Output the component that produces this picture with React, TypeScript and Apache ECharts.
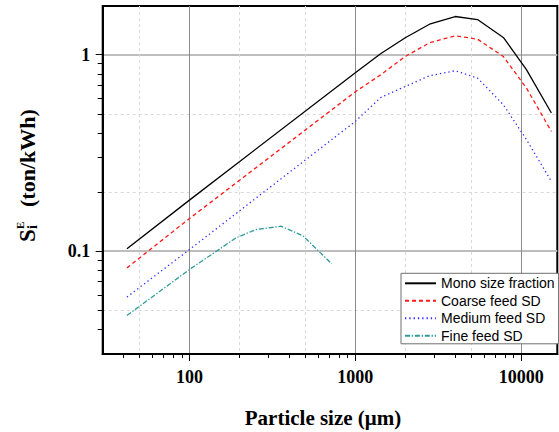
import React, { useEffect, useRef } from "react";
import * as echarts from "echarts";

// ---- data ----
const monoX = [42, 100, 1000, 1420, 2000, 2800, 4000, 5450, 7800, 10750, 15200];
const monoY = [0.103, 0.182, 0.81, 1.012, 1.22, 1.43, 1.565, 1.51, 1.225, 0.84, 0.505];

const coarseX = [42, 100, 1000, 1420, 2000, 2800, 4000, 5450, 7800, 10750, 15200];
const coarseY = [0.0823, 0.1467, 0.648, 0.79, 0.98, 1.15, 1.249, 1.2, 0.98, 0.677, 0.407];

const mediumX = [42, 100, 1000, 1420, 2000, 2800, 4000, 5450, 7800, 10750, 15200];
const mediumY = [0.0585, 0.102, 0.458, 0.605, 0.69, 0.782, 0.829, 0.761, 0.557, 0.37, 0.227];

const fineX = [42, 100, 191, 252, 357, 482, 721];
const fineY = [0.0471, 0.0807, 0.117, 0.129, 0.134, 0.12, 0.0863];

const seriesNames = ["Mono size fraction", "Coarse feed SD", "Medium feed SD", "Fine feed SD"];

const xMajor = [100, 1000, 10000];
const xMinorTicks = [40, 50, 60, 70, 80, 90, 200, 300, 400, 500, 600, 700, 800, 900,
  2000, 3000, 4000, 5000, 6000, 7000, 8000, 9000];
const xMinorGrid = [50, 200, 500, 2000, 5000];
const xLabels = ["100", "1000", "10000"];

const yMajor = [0.1, 1];
const yMinorTicks = [0.04, 0.05, 0.06, 0.07, 0.08, 0.09, 0.2, 0.3, 0.4, 0.5, 0.6, 0.7, 0.8, 0.9];
const yMinorGrid = [0.05, 0.2, 0.5];
const yLabels = ["0.1", "1"];

const X_MIN = 30;
const X_MAX = 16500;
const Y_MIN = 0.03;
const Y_MAX = 1.77;

const zip = (xs: number[], ys: number[]) => xs.map((x, i) => [x, ys[i]]);

export default function App() {
  const ref = useRef<HTMLDivElement>(null);

  useEffect(() => {
    if (!ref.current) return;
    const chart = echarts.init(ref.current, undefined, { renderer: "svg" });

    const serif = "Liberation Serif";
    const sans = "Liberation Sans";

    const labelFmt = (majors: number[], labels: string[]) => (v: number) => {
      for (let i = 0; i < majors.length; i++) {
        if (Math.abs(Math.log10(v) - Math.log10(majors[i])) < 1e-6) return labels[i];
      }
      return "";
    };

    const baseX = { type: "log", logBase: 10, min: X_MIN, max: X_MAX, position: "bottom", gridIndex: 0 };
    const baseY = { type: "log", logBase: 10, min: Y_MIN, max: Y_MAX, position: "left", gridIndex: 0 };

    const mkSeries = (name: string, xs: number[], ys: number[], color: string, type: any) => ({
      name,
      type: "line",
      xAxisIndex: 0,
      yAxisIndex: 0,
      symbol: "none",
      lineStyle: { color, width: 1.3, type },
      itemStyle: { color, opacity: 0 },
      data: zip(xs, ys),
      z: 5,
    });

    const txt = (text: string, x: number, y: number, size: number, align = "left") => ({
      type: "text",
      x,
      y,
      style: {
        text,
        fontFamily: serif,
        fontWeight: "bold",
        fontSize: size,
        fill: "#000",
        textAlign: align,
        textVerticalAlign: "middle",
        align,
        verticalAlign: "middle",
      },
    });

    const option: any = {
      animation: false,
      backgroundColor: "#ffffff",
      grid: {
        left: 102.7,
        right: 1.7,
        top: 6,
        bottom: 78,
        show: true,
        borderColor: "#000",
        borderWidth: 2,
        backgroundColor: "transparent",
        containLabel: false,
        outerBoundsMode: "none",
      },
      xAxis: [
        {
          ...baseX,
          axisLine: { show: true, lineStyle: { color: "#000", width: 2 } },
          axisTick: { show: true, inside: false, length: 7, lineStyle: { color: "#000", width: 1 }, customValues: xMajor },
          axisLabel: {
            show: true,
            customValues: xMajor,
            formatter: labelFmt(xMajor, xLabels),
            margin: 14,
            color: "#000",
            fontFamily: serif,
            fontWeight: "bold",
            fontSize: 18,
          },
          splitLine: { show: true, lineStyle: { color: "#8c8c8c", width: 1 } },
          minorTick: { show: false },
          minorSplitLine: { show: false },
        },
        {
          ...baseX,
          axisLine: { show: false },
          axisTick: { show: true, inside: false, length: 4, lineStyle: { color: "#000", width: 1 }, customValues: xMinorTicks },
          axisLabel: { show: false },
          splitLine: { show: false },
        },
        {
          ...baseX,
          axisLine: { show: false },
          axisTick: { show: false, customValues: xMinorGrid },
          axisLabel: { show: false },
          splitLine: { show: true, lineStyle: { color: "#d9d9d9", width: 1, type: [3, 3] } },
        },
      ],
      yAxis: [
        {
          ...baseY,
          axisLine: { show: true, lineStyle: { color: "#000", width: 2 } },
          axisTick: { show: true, inside: false, length: 7, lineStyle: { color: "#000", width: 1 }, customValues: yMajor },
          axisLabel: {
            show: true,
            customValues: yMajor,
            formatter: labelFmt(yMajor, yLabels),
            margin: 12.5,
            color: "#000",
            fontFamily: serif,
            fontWeight: "bold",
            fontSize: 18,
          },
          splitLine: { show: true, lineStyle: { color: "#bdbdbd", width: 2 } },
          minorTick: { show: false },
          minorSplitLine: { show: false },
        },
        {
          ...baseY,
          axisLine: { show: false },
          axisTick: { show: true, inside: false, length: 5, lineStyle: { color: "#000", width: 1 }, customValues: yMinorTicks },
          axisLabel: { show: false },
          splitLine: { show: false },
        },
        {
          ...baseY,
          axisLine: { show: false },
          axisTick: { show: false, customValues: yMinorGrid },
          axisLabel: { show: false },
          splitLine: { show: true, lineStyle: { color: "#d9d9d9", width: 1, type: [3, 3] } },
        },
      ],
      legend: {
        show: true,
        orient: "vertical",
        left: 401,
        top: 273.3,
        padding: [3, 4, 1, 3],
        itemWidth: 31,
        itemHeight: 14,
        itemGap: 3.5,
        backgroundColor: "#ffffff",
        borderColor: "#6e6e6e",
        borderWidth: 1,
        borderRadius: 0,
        itemStyle: { opacity: 0 },
        textStyle: { fontFamily: sans, fontSize: 14, color: "#000" },
        data: seriesNames.map((n) => ({ name: n })),
      },
      series: [
        mkSeries(seriesNames[0], monoX, monoY, "#000000", "solid"),
        mkSeries(seriesNames[1], coarseX, coarseY, "#ff1a1a", [4, 3]),
        mkSeries(seriesNames[2], mediumX, mediumY, "#2a2aff", [1.3, 3]),
        mkSeries(seriesNames[3], fineX, fineY, "#2f9a9a", [5, 1.8, 1.3, 1.8]),
      ],
      graphic: [
        txt("Particle size (μm)", 323, 418, 21, "center"),
        {
          type: "group",
          x: 27,
          y: 242,
          rotation: Math.PI / 2,
          children: [
            txt("S", 0, 0, 23),
            txt("i", 13, 5, 14),
            txt("E", 13, -7, 11),
            txt("(ton/kWh)", 35, 0, 22),
          ],
        },
      ],
    };

    chart.setOption(option);
    return () => {
      chart.dispose();
    };
  }, []);

  return (
    <div
      ref={ref}
      style={{ position: "fixed", left: 0, top: 0, width: 559, height: 432, background: "#fff" }}
    />
  );
}
